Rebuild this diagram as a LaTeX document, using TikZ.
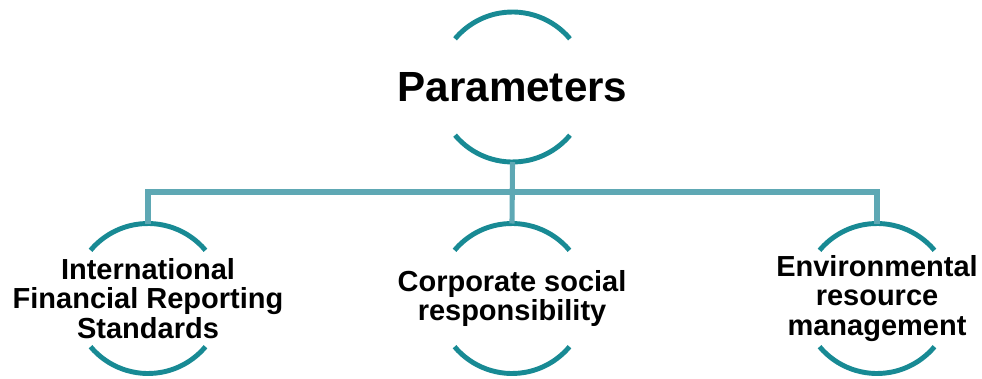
\documentclass[tikz,border=0pt]{standalone}
\usepackage{fontspec}
\setmainfont{Liberation Sans}
\usetikzlibrary{positioning}
\definecolor{ringteal}{RGB}{24, 138, 148}
\definecolor{linkteal}{RGB}{94, 168, 180}

\begin{document}
\begin{tikzpicture}[
        ring/.style={circle, minimum size=3cm, inner sep=0pt, outer sep=0pt},
        ringline/.style={draw=ringteal, line width=2.8pt},
        link/.style={draw=linkteal, line width=2.9pt},
        headtext/.style={font=\bfseries\fontsize{24}{28}\selectfont},
        leaftext/.style={font=\bfseries\fontsize{16.5}{16.6}\selectfont, align=center}]
            \useasboundingbox (0, 0) rectangle (19.64, 7.56);

            % rings
            \node[ring] (param) at (10.25, 5.82) {};
            \node[ring] (ifrs) at (2.96, 1.59) {};
            \node[ring] (csr) at (10.24, 1.59) {};
            \node[ring] (erm) at (17.54, 1.59) {};
            \coordinate (bus) at (0, 3.72);

            % texts
            \node[headtext] (param-text) at (param) {Parameters};
            \node[leaftext] (ifrs-text) at (ifrs) {International\\Financial Reporting\\Standards};
            \node[leaftext] (csr-text) at (csr) {Corporate social\\responsibility};
            \node[leaftext] (erm-text) at (erm) {Environmental\\resource\\management};

            \foreach \n in {param, ifrs, csr, erm} {
                \draw[ringline] (\n.40) arc[start angle=40, end angle=140, radius=1.5cm];
                \draw[ringline] (\n.220) arc[start angle=220, end angle=320, radius=1.5cm];
            }

            % links
            \draw[link] (param.south) -- (csr.north);
            \draw[link] (ifrs.north) -- (ifrs.north |- bus) -- (erm.north |- bus) -- (erm.north);
        \end{tikzpicture}
\end{document}
